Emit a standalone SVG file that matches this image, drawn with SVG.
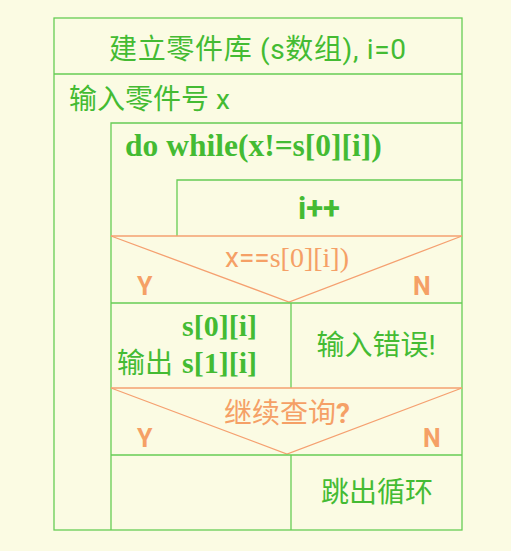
<svg xmlns="http://www.w3.org/2000/svg" width="511" height="551" viewBox="0 0 511 551">
<style>
.g{fill:none;stroke:#66CC55;stroke-width:1.3}
.o{fill:none;stroke:#F5A070;stroke-width:1.3}
.t{fill:#44BB33;font-family:Roboto,"Noto Sans CJK SC",sans-serif;font-size:28px}
.b{fill:#44BB33;font-family:"Liberation Serif","Noto Sans CJK SC",serif;font-size:30px;font-weight:bold}
.ot{fill:#F5A066;font-family:Roboto,"Noto Sans CJK SC",sans-serif;font-size:28px}
.os{fill:#F5A066;font-family:"Liberation Serif",serif;font-size:28px}
.yn{fill:#F5A066;font-family:Roboto,"Liberation Sans",sans-serif;font-size:25px;font-weight:bold}
</style>
<rect width="511" height="551" fill="#FBFBE3"/>
<g id="connectors">
<rect class="g" x="54" y="18" width="408" height="512"/>
<line class="g" x1="54" y1="74" x2="462" y2="74"/>
<polyline class="g" points="111,530 111,123 462,123"/>
<polyline class="g" points="177,236 177,180 462,180"/>
<line class="o" x1="111" y1="236" x2="462" y2="236"/>
<polyline class="o" points="111,236 289,302 462,236"/>
<line class="g" x1="111" y1="303" x2="462" y2="303"/>
<line class="g" x1="291" y1="303" x2="291" y2="388"/>
<line class="o" x1="111" y1="388" x2="462" y2="388"/>
<polyline class="o" points="111,388 287,454 462,388"/>
<line class="g" x1="111" y1="455" x2="462" y2="455"/>
<line class="g" x1="291" y1="455" x2="291" y2="530"/>
</g>
<g id="init"><text class="t" x="109" y="59" textLength="297" lengthAdjust="spacing">建立零件库 (s数组), i=0</text></g>
<g id="input"><text class="t" x="69" y="109">输入零件号 x</text></g>
<g id="loop"><text class="b" x="125" y="156" style="font-size:31.5px">do while(x!=s[0][i])</text></g>
<g id="inc"><text class="b" x="319" y="219" text-anchor="middle" style="font-family:Roboto,'Liberation Sans',sans-serif;font-size:31px">i++</text></g>
<g id="cond1">
<text x="287" y="267" text-anchor="middle"><tspan class="ot">x==</tspan><tspan class="os">s[0][i])</tspan></text>
<text class="yn" x="137" y="295">Y</text>
<text class="yn" x="413" y="295">N</text>
</g>
<g id="output">
<text class="b" x="182" y="336">s[0][i]</text>
<text class="t" x="117" y="373">输出</text>
<text class="b" x="182" y="373">s[1][i]</text>
</g>
<g id="error"><text class="t" x="376" y="355" text-anchor="middle">输入错误!</text></g>
<g id="cond2">
<text class="ot" x="287" y="423" text-anchor="middle">继续查询<tspan style="font-weight:bold">?</tspan></text>
<text class="yn" x="137" y="447">Y</text>
<text class="yn" x="423" y="447">N</text>
</g>
<g id="exit"><text class="t" x="377" y="502" text-anchor="middle">跳出循环</text></g>
</svg>
